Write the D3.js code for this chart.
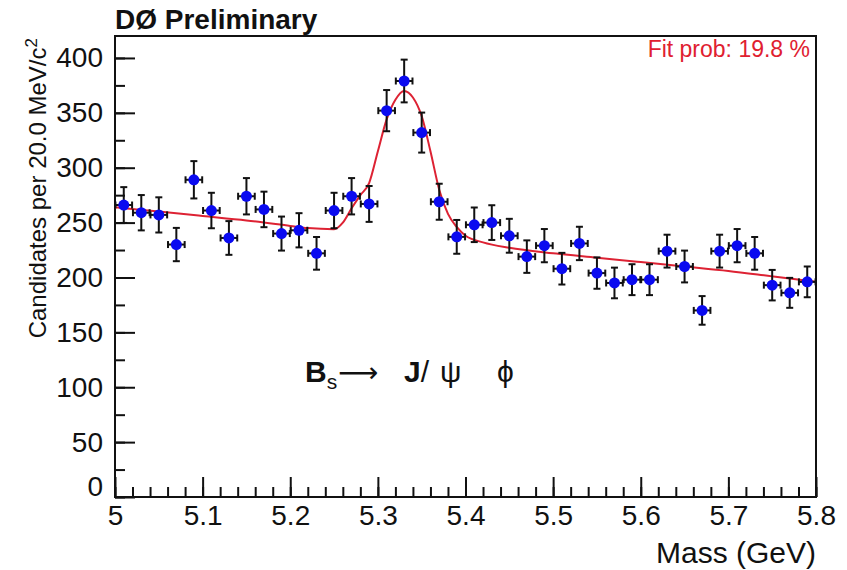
<!DOCTYPE html>
<html>
<head>
<meta charset="utf-8">
<script src="https://cdn.jsdelivr.net/npm/d3@7"></script>
<style>
  body { margin: 0; background: #fff; }
  text { font-family: "Liberation Sans", Arial, Helvetica, sans-serif; }
</style>
</head>
<body>
<div id="chart"></div>
<script>
// bin centres (GeV), 20 MeV bins
var massBins = [5.01, 5.03, 5.05, 5.07, 5.09, 5.11, 5.13, 5.15, 5.17, 5.19,
                5.21, 5.23, 5.25, 5.27, 5.29, 5.31, 5.33, 5.35, 5.37, 5.39,
                5.41, 5.43, 5.45, 5.47, 5.49, 5.51, 5.53, 5.55, 5.57, 5.59,
                5.61, 5.63, 5.65, 5.67, 5.69, 5.71, 5.73, 5.75, 5.77, 5.79];
// candidates per bin
var candidates = [266, 259, 257, 230, 289, 261, 236, 274, 262, 240,
                  243, 222, 261, 274, 267, 352, 379, 332, 269, 237,
                  248, 250, 238, 219, 229, 208, 231, 204, 195, 198,
                  198, 224, 210, 170, 224, 229, 222, 193, 186, 196];

// fit curve
var fitMass = [5.00, 5.05, 5.10, 5.15, 5.20, 5.22, 5.25, 5.26, 5.27, 5.28,
               5.29, 5.30, 5.31, 5.32, 5.33, 5.34, 5.35, 5.36, 5.37, 5.38,
               5.39, 5.40, 5.42, 5.45, 5.50, 5.55, 5.60, 5.65, 5.70, 5.75, 5.80];
var fitCount = [264, 260, 256, 252, 247, 245, 244, 250, 263, 275,
                286, 315, 344, 362, 370, 364, 347, 315, 280, 258,
                246, 238, 232, 227, 222, 218, 214, 210, 206, 201, 196];

var xTicks = [5, 5.1, 5.2, 5.3, 5.4, 5.5, 5.6, 5.7, 5.8];
var xTickLabels = ["5", "5.1", "5.2", "5.3", "5.4", "5.5", "5.6", "5.7", "5.8"];
var yTicks = [0, 50, 100, 150, 200, 250, 300, 350, 400];
var yTickLabels = ["0", "50", "100", "150", "200", "250", "300", "350", "400"];

var w = 847;
var h = 570;
// frame edges (note: "top" would clash with window.top)
var padL = 115, padR = 816, padT = 36, padB = 497;

var svg = d3.select("#chart")
    .append("svg")
    .attr("width", w)
    .attr("height", h);

svg.append("rect").attr("width", w).attr("height", h).attr("fill", "#fff");

var x = d3.scaleLinear().domain([5, 5.8]).range([padL, padR]);
var y = d3.scaleLinear().domain([0, 420]).range([padB, padT]);

// minor ticks
svg.append("g")
    .attr("transform", "translate(0," + padB + ")")
    .call(d3.axisBottom(x).tickValues(d3.range(0, 41).map(function (i) { return 5 + i * 0.02; }))
        .tickSize(-10).tickFormat(""))
    .call(function (g) { g.select(".domain").remove(); });
svg.append("g")
    .attr("transform", "translate(" + padL + ",0)")
    .call(d3.axisLeft(y).tickValues(d3.range(0, 17).map(function (i) { return i * 25; }))
        .tickSize(-10).tickFormat(""))
    .call(function (g) { g.select(".domain").remove(); });

// major ticks + labels
var xAxis = svg.append("g")
    .attr("transform", "translate(0," + padB + ")")
    .call(d3.axisBottom(x).tickValues(xTicks).tickSize(-20).tickPadding(8)
        .tickFormat(function (d, i) { return xTickLabels[i]; }));
xAxis.select(".domain").remove();
xAxis.selectAll("text").attr("font-size", 28).attr("fill", "#111")
    .attr("font-family", "Liberation Sans, Arial, sans-serif");

var yAxis = svg.append("g")
    .attr("transform", "translate(" + padL + ",0)")
    .call(d3.axisLeft(y).tickValues(yTicks).tickSize(-20).tickPadding(12)
        .tickFormat(function (d, i) { return yTickLabels[i]; }));
yAxis.select(".domain").remove();
yAxis.selectAll("text").attr("font-size", 28).attr("fill", "#111")
    .attr("font-family", "Liberation Sans, Arial, sans-serif");
// the zero label sits a little higher, as in ROOT
yAxis.selectAll(".tick").filter(function (d) { return d === 0; })
    .select("text").attr("dy", "-0.05em");
svg.selectAll(".tick line").attr("stroke", "#111").attr("stroke-width", 2);

// frame
svg.append("rect")
    .attr("x", padL).attr("y", padT)
    .attr("width", padR - padL).attr("height", padB - padT)
    .attr("fill", "none").attr("stroke", "#111").attr("stroke-width", 2);

// fit curve
var fit = fitMass.map(function (m, i) { return [m, fitCount[i]]; });
svg.append("path")
    .datum(fit)
    .attr("fill", "none")
    .attr("stroke", "#dd2233")
    .attr("stroke-width", 2)
    .attr("d", d3.line()
        .x(function (d) { return x(d[0]); })
        .y(function (d) { return y(d[1]); })
        .curve(d3.curveMonotoneX));

// data points with errors (sqrt N)
var pts = massBins.map(function (m, i) { return { m: m, n: candidates[i], e: Math.sqrt(candidates[i]) }; });
var g = svg.append("g").attr("stroke", "#111").attr("stroke-width", 2);
g.selectAll(".ev").data(pts).enter().append("line")
    .attr("x1", function (d) { return x(d.m); })
    .attr("x2", function (d) { return x(d.m); })
    .attr("y1", function (d) { return y(d.n - d.e); })
    .attr("y2", function (d) { return y(d.n + d.e); });
g.selectAll(".eh").data(pts).enter().append("line")
    .attr("x1", function (d) { return x(d.m - 0.0095); })
    .attr("x2", function (d) { return x(d.m + 0.0095); })
    .attr("y1", function (d) { return y(d.n); })
    .attr("y2", function (d) { return y(d.n); });
// caps
[1, -1].forEach(function (s) {
    g.selectAll(".cv" + s).data(pts).enter().append("line")
        .attr("x1", function (d) { return x(d.m) - 3.5; })
        .attr("x2", function (d) { return x(d.m) + 3.5; })
        .attr("y1", function (d) { return y(d.n + s * d.e); })
        .attr("y2", function (d) { return y(d.n + s * d.e); });
    g.selectAll(".ch" + s).data(pts).enter().append("line")
        .attr("x1", function (d) { return x(d.m + s * 0.0095); })
        .attr("x2", function (d) { return x(d.m + s * 0.0095); })
        .attr("y1", function (d) { return y(d.n) - 3.5; })
        .attr("y2", function (d) { return y(d.n) + 3.5; });
});
svg.selectAll(".pt").data(pts).enter().append("circle")
    .attr("cx", function (d) { return x(d.m); })
    .attr("cy", function (d) { return y(d.n); })
    .attr("r", 5.5)
    .attr("fill", "#0a0af0");

// titles and labels
svg.append("text")
    .attr("x", padL).attr("y", 29)
    .attr("font-size", 28).attr("font-weight", "bold").attr("fill", "#111")
    .text("DØ Preliminary");

svg.append("text")
    .attr("x", 810).attr("y", 57)
    .attr("text-anchor", "end")
    .attr("font-size", 23).attr("fill", "#e02030")
    .text("Fit prob: 19.8 %");

svg.append("text")
    .attr("x", padR).attr("y", 563)
    .attr("text-anchor", "end")
    .attr("font-size", 30).attr("fill", "#111")
    .text("Mass (GeV)");

var yt = svg.append("text")
    .attr("transform", "translate(46,38) rotate(-90)")
    .attr("text-anchor", "end")
    .attr("font-size", 24).attr("fill", "#111");
yt.append("tspan").text("Candidates per 20.0 MeV/c");
yt.append("tspan").attr("dy", -9).attr("font-size", 17).text("2");

var lab = svg.append("text")
    .attr("y", 382)
    .attr("font-size", 30).attr("fill", "#111");
lab.append("tspan").attr("x", 305).attr("font-weight", "bold").text("B");
lab.append("tspan").attr("dy", 7).attr("font-size", 21).text("s");
lab.append("tspan").attr("x", 338).attr("dy", -7)
    .attr("font-family", "DejaVu Sans").attr("font-size", 28).text("\u27F6");
lab.append("tspan").attr("x", 404).attr("font-weight", "bold").text("J");
lab.append("tspan").text("/");
lab.append("tspan").attr("x", 440).text("\u03C8");
lab.append("tspan").attr("x", 497).text("\u03D5");
</script>
</body>
</html>
